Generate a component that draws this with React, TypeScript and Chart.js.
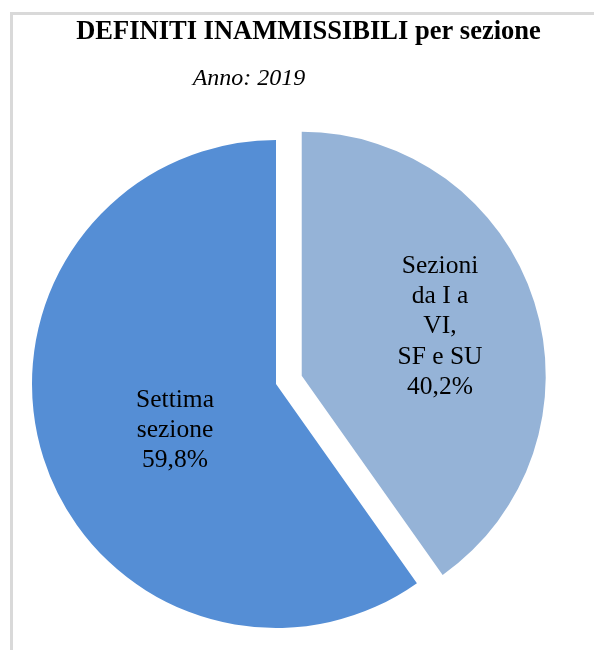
import React, { useEffect, useRef } from "react";
import { Chart, registerables } from "chart.js";

Chart.register(...registerables);

const TITLE = "DEFINITI INAMMISSIBILI per sezione";
const SUBTITLE = "Anno: 2019";
const categories = ["Sezioni da I a VI, SF e SU", "Settima sezione"];
const labelLines = [["Sezioni", "da I a", "VI,", "SF e SU"], ["Settima", "sezione"]];
const values = [40.2, 59.8];
const percentLabels = ["40,2%", "59,8%"];
const colors = ["#95b3d7", "#558ed5"];
const explode = [27, 0];

const FONT = "'Liberation Serif', 'Times New Roman', serif";

const explodePlugin = {
  id: "explodeDraw",
  beforeDraw(chart: any) {
    const ctx = chart.ctx;
    ctx.save();
    ctx.fillStyle = "#ffffff";
    ctx.fillRect(0, 0, chart.width, chart.height);
    ctx.fillStyle = "#d9d9d9";
    ctx.fillRect(10, 12, 3, chart.height);
    ctx.fillRect(10, 12, chart.width, 3);
    ctx.restore();
  },
  beforeDatasetsDraw(chart: any) {
    const ctx = chart.ctx;
    const meta = chart.getDatasetMeta(0);
    meta.data.forEach((arc: any, i: number) => {
      const d = explode[i] || 0;
      const mid = (arc.startAngle + arc.endAngle) / 2;
      ctx.save();
      ctx.translate(Math.cos(mid) * d, Math.sin(mid) * d);
      arc.draw(ctx);
      ctx.restore();
    });
    return false;
  },
  afterDraw(chart: any) {
    const ctx = chart.ctx;
    ctx.save();
    ctx.fillStyle = "#000000";
    ctx.textAlign = "center";
    ctx.textBaseline = "alphabetic";
    ctx.font = `bold 26.5px ${FONT}`;
    ctx.fillText(TITLE, 308.5, 39);
    ctx.font = `italic 24px ${FONT}`;
    ctx.fillText(SUBTITLE, 249, 85);

    ctx.font = `25.5px ${FONT}`;
    const blocks = [
      { x: 440, y: 273 },
      { x: 175, y: 407 },
    ];
    labelLines.forEach((lines, i) => {
      const all = [...lines, percentLabels[i]];
      all.forEach((t, j) => {
        ctx.fillText(t, blocks[i].x, blocks[i].y + j * 30.2);
      });
    });
    ctx.restore();
  },
};

export default function App() {
  const ref = useRef<HTMLCanvasElement | null>(null);
  useEffect(() => {
    if (!ref.current) return;
    const chart = new Chart(ref.current, {
      type: "pie",
      data: {
        labels: categories,
        datasets: [
          {
            data: values,
            backgroundColor: colors,
            borderWidth: 0,
          },
        ],
      },
      options: {
        responsive: false,
        animation: false,
        layout: { padding: { left: 32, right: 74, top: 140, bottom: 22 } },
        plugins: {
          legend: { display: false },
          tooltip: { enabled: false },
          title: { display: false },
        },
      },
      plugins: [explodePlugin],
    });
    return () => chart.destroy();
  }, []);
  return (
    <div style={{ position: "absolute", left: 0, top: 0, width: 594, height: 650 }}>
      <canvas ref={ref} width={594} height={650} style={{ width: 594, height: 650, display: "block" }} />
    </div>
  );
}
